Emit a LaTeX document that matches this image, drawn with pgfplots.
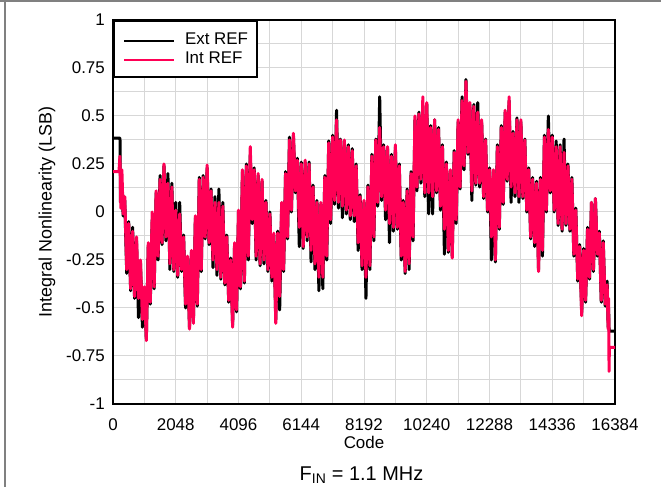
\documentclass[border=0pt]{standalone}
\usepackage{fontspec}
\setmainfont{Liberation Sans}
\usepackage{pgfplots}
\pgfplotsset{compat=1.18}
\definecolor{intref}{RGB}{255,0,85}
\definecolor{gridgray}{RGB}{215,215,215}
\begin{document}
\begin{tikzpicture}
\useasboundingbox (0,0) rectangle (661bp,487bp);
\draw[gray, line width=2bp] (0,485.8bp) -- (661bp,485.8bp);
\draw[gray, line width=2bp] (5bp,0) -- (5bp,485.8bp);
\begin{axis}[
  at={(113bp,83bp)}, anchor=south west,
  scale only axis, width=502bp, height=384bp,
  xmin=0, xmax=16384, ymin=-1, ymax=1,
  scaled x ticks=false, scaled y ticks=false,
  xtick={0,2048,4096,6144,8192,10240,12288,14336,16384},
  xticklabels={0,2048,4096,6144,8192,10240,12288,14336,16384},
  ytick={-1,-0.75,-0.5,-0.25,0,0.25,0.5,0.75,1},
  yticklabels={-1,-0.75,-0.5,-0.25,0,0.25,0.5,0.75,1},
  minor x tick num=1, minor y tick num=1,
  grid=both,
  major grid style={gridgray, line width=1bp},
  minor grid style={gridgray, line width=1bp},
  major tick length=0pt, minor tick length=0pt,
  axis line style={line width=2.2bp},
  tick label style={font=\fontsize{17}{20}\selectfont},
  xticklabel style={anchor=base, yshift=-26.7bp},
  yticklabel style={anchor=east, inner sep=0pt, xshift=-8bp},
  xlabel={Code},
  ylabel={Integral Nonlinearity (LSB)},
  xlabel style={font=\fontsize{17}{20}\selectfont, at={(axis description cs:0.5,-0.1154)}, anchor=base},
  ylabel style={font=\fontsize{18}{20}\selectfont, at={(axis description cs:-0.1225,0.5)}, anchor=base, rotate=0},
  legend style={at={(0,1)}, anchor=north west, draw=black, line width=2bp,
    font=\fontsize{17}{20}\selectfont, inner xsep=9bp, inner ysep=12bp,
    row sep=4.5bp,
    nodes={inner sep=0pt, text height=12bp, text depth=2bp}},
  legend cell align=left,
  legend image code/.code={\draw[#1, line width=2bp] (0bp,-1.5bp) -- (50bp,-1.5bp);},
]
\addplot[black, line width=3bp, line join=round] coordinates {
(0,0.385)(228,0.385)(244,0.05)(300,0.15)(330,-0.02)
(384,0.06)(448,-0.32)(512,-0.05)(576,-0.41)(640,-0.08)(704,-0.45)(768,-0.15)(832,-0.55)(896,-0.26)(960,-0.60)
(1024,-0.40)(1088,-0.66)(1152,-0.17)(1216,-0.48)(1280,-0.04)(1344,-0.40)(1408,0.10)(1472,-0.25)(1536,0.19)(1600,-0.17)(1664,0.24)(1728,-0.15)(1792,0.20)(1856,-0.30)(1920,0.15)(1984,-0.31)
(2048,0.05)(2112,-0.34)(2176,0.05)(2240,-0.31)(2304,-0.12)(2368,-0.50)(2432,-0.24)(2496,-0.60)(2560,-0.21)(2624,-0.57)(2688,-0.03)(2752,-0.49)(2816,0.18)(2880,-0.31)(2944,0.19)(3008,-0.14)
(3072,0.23)(3136,-0.17)(3200,0.12)(3264,-0.29)(3328,0.08)(3392,-0.33)(3456,0.12)(3520,-0.35)(3584,0.05)(3648,-0.38)(3712,-0.12)(3776,-0.47)(3840,-0.24)(3904,-0.59)(3968,-0.17)(4032,-0.52)
(4096,0.00)(4160,-0.40)(4224,0.21)(4288,-0.37)(4352,0.25)(4416,-0.25)(4480,0.30)(4544,-0.06)(4608,0.23)(4672,-0.25)(4736,0.19)(4800,-0.28)(4864,0.16)(4928,-0.27)(4992,0.06)(5056,-0.31)
(5120,0.00)(5184,-0.36)(5248,-0.12)(5312,-0.56)(5376,-0.10)(5440,-0.51)(5504,0.03)(5568,-0.31)(5632,0.21)(5696,-0.14)(5760,0.39)(5824,0.00)(5888,0.40)(5952,0.10)(6016,0.28)(6080,-0.18)
(6144,0.26)(6208,-0.19)(6272,0.26)(6336,-0.15)(6400,0.26)(6464,-0.26)(6528,0.14)(6592,-0.30)(6656,0.06)(6720,-0.41)(6784,0.04)(6848,-0.40)(6912,0.19)(6976,-0.25)(7040,0.37)(7104,-0.06)
(7168,0.40)(7232,0.04)(7296,0.53)(7360,0.02)(7424,0.38)(7488,-0.03)(7552,0.37)(7616,-0.01)(7680,0.35)(7744,-0.04)(7808,0.33)(7872,-0.05)(7936,0.25)(8000,-0.20)(8064,0.09)(8128,-0.30)
(8192,0.05)(8256,-0.45)(8320,0.14)(8384,-0.30)(8448,0.30)(8512,-0.15)(8576,0.38)(8640,0.03)(8704,0.60)(8768,0.06)(8832,0.35)(8896,-0.04)(8960,0.33)(9024,-0.16)(9088,0.30)(9152,-0.10)
(9216,0.34)(9280,-0.09)(9344,0.25)(9408,-0.25)(9472,0.06)(9536,-0.32)(9600,0.12)(9664,-0.30)(9728,0.21)(9792,-0.15)(9856,0.48)(9920,0.11)(9984,0.52)(10048,0.15)(10112,0.55)(10176,0.08)
(10240,0.56)(10304,-0.01)(10368,0.45)(10432,-0.01)(10496,0.48)(10560,0.10)(10624,0.44)(10688,0.01)(10752,0.35)(10816,-0.22)(10880,0.26)(10944,-0.21)(11008,0.21)(11072,-0.23)(11136,0.32)(11200,-0.06)
(11264,0.47)(11328,0.12)(11392,0.60)(11456,0.22)(11520,0.69)(11584,0.30)(11648,0.56)(11712,0.06)(11776,0.56)(11840,0.14)(11904,0.57)(11968,0.13)(12032,0.47)(12096,0.07)(12160,0.38)(12224,0.00)
(12288,0.23)(12352,-0.25)(12416,0.21)(12480,-0.26)(12544,0.35)(12608,-0.09)(12672,0.45)(12736,0.04)(12800,0.52)(12864,0.16)(12928,0.58)(12992,0.05)(13056,0.42)(13120,0.08)(13184,0.49)(13248,0.05)
(13312,0.47)(13376,0.07)(13440,0.38)(13504,0.00)(13568,0.23)(13632,-0.14)(13696,0.18)(13760,-0.18)(13824,0.16)(13888,-0.30)(13952,0.18)(14016,-0.23)(14080,0.40)(14144,0.00)(14208,0.50)(14272,0.10)
(14336,0.40)(14400,0.00)(14464,0.37)(14528,-0.07)(14592,0.35)(14656,-0.10)(14720,0.38)(14784,-0.07)(14848,0.25)(14912,-0.10)(14976,0.18)(15040,-0.23)(15104,0.02)(15168,-0.36)(15232,-0.17)(15296,-0.52)
(15360,-0.19)(15424,-0.47)(15488,-0.08)(15552,-0.35)(15616,0.05)(15680,-0.31)(15744,0.07)(15808,-0.23)(15872,-0.10)(15936,-0.47)(16000,-0.15)(16064,-0.49)(16128,-0.36)(16160,-0.60)(16176,-0.50)(16190,-0.62)(16384,-0.62)
};
\addlegendentry{\hspace*{10bp}Ext REF}
\addplot[intref, line width=3bp, line join=round] coordinates {
(0,0.21)(195,0.21)(225,0.29)(256,0.02)(290,0.22)(330,-0.01)
(384,0.08)(448,-0.30)(512,-0.06)(576,-0.40)(640,-0.10)(704,-0.44)(768,-0.13)(832,-0.45)(896,-0.25)(960,-0.56)
(1024,-0.39)(1088,-0.67)(1152,-0.16)(1216,-0.47)(1280,0.00)(1344,-0.39)(1408,0.11)(1472,-0.23)(1536,0.17)(1600,-0.16)(1664,0.25)(1728,-0.13)(1792,0.15)(1856,-0.27)(1920,0.13)(1984,-0.30)
(2048,0.01)(2112,-0.33)(2176,-0.01)(2240,-0.30)(2304,-0.13)(2368,-0.48)(2432,-0.23)(2496,-0.61)(2560,-0.20)(2624,-0.58)(2688,-0.02)(2752,-0.48)(2816,0.17)(2880,-0.30)(2944,0.18)(3008,-0.13)
(3072,0.245)(3136,-0.16)(3200,0.11)(3264,-0.25)(3328,0.05)(3392,-0.30)(3456,0.05)(3520,-0.34)(3584,0.03)(3648,-0.37)(3712,-0.13)(3776,-0.46)(3840,-0.25)(3904,-0.60)(3968,-0.16)(4032,-0.51)
(4096,0.01)(4160,-0.39)(4224,0.22)(4288,-0.36)(4352,0.24)(4416,-0.23)(4480,0.34)(4544,-0.04)(4608,0.22)(4672,-0.23)(4736,0.20)(4800,-0.27)(4864,0.17)(4928,-0.25)(4992,0.05)(5056,-0.30)
(5120,-0.01)(5184,-0.34)(5248,-0.11)(5312,-0.58)(5376,-0.11)(5440,-0.44)(5504,0.05)(5568,-0.30)(5632,0.20)(5696,-0.13)(5760,0.375)(5824,0.01)(5888,0.41)(5952,0.11)(6016,0.27)(6080,-0.08)
(6144,0.25)(6208,-0.18)(6272,0.27)(6336,-0.13)(6400,0.25)(6464,-0.20)(6528,0.13)(6592,-0.27)(6656,0.05)(6720,-0.34)(6784,0.05)(6848,-0.34)(6912,0.18)(6976,-0.23)(7040,0.36)(7104,-0.04)
(7168,0.39)(7232,0.06)(7296,0.48)(7360,0.05)(7424,0.375)(7488,0.03)(7552,0.375)(7616,0.01)(7680,0.34)(7744,-0.02)(7808,0.32)(7872,-0.02)(7936,0.24)(8000,-0.16)(8064,0.08)(8128,-0.28)
(8192,0.06)(8256,-0.34)(8320,0.13)(8384,-0.28)(8448,0.29)(8512,-0.13)(8576,0.375)(8640,0.05)(8704,0.44)(8768,0.08)(8832,0.34)(8896,0.01)(8960,0.34)(9024,-0.06)(9088,0.29)(9152,-0.08)
(9216,0.35)(9280,-0.08)(9344,0.24)(9408,-0.23)(9472,0.05)(9536,-0.31)(9600,0.11)(9664,-0.27)(9728,0.20)(9792,-0.13)(9856,0.50)(9920,0.13)(9984,0.51)(10048,0.17)(10112,0.60)(10176,0.10)
(10240,0.57)(10304,0.10)(10368,0.44)(10432,0.08)(10496,0.48)(10560,0.11)(10624,0.43)(10688,0.03)(10752,0.34)(10816,-0.09)(10880,0.25)(10944,-0.20)(11008,0.22)(11072,-0.24)(11136,0.31)(11200,-0.04)
(11264,0.48)(11328,0.13)(11392,0.58)(11456,0.24)(11520,0.68)(11584,0.31)(11648,0.57)(11712,0.11)(11776,0.55)(11840,0.15)(11904,0.52)(11968,0.15)(12032,0.48)(12096,0.08)(12160,0.375)(12224,0.01)
(12288,0.22)(12352,-0.13)(12416,0.22)(12480,-0.25)(12544,0.34)(12608,-0.08)(12672,0.44)(12736,0.05)(12800,0.53)(12864,0.17)(12928,0.60)(12992,0.13)(13056,0.41)(13120,0.10)(13184,0.48)(13248,0.08)
(13312,0.48)(13376,0.08)(13440,0.375)(13504,0.01)(13568,0.22)(13632,-0.13)(13696,0.17)(13760,-0.16)(13824,0.15)(13888,-0.31)(13952,0.17)(14016,-0.20)(14080,0.39)(14144,0.01)(14208,0.43)(14272,0.11)
(14336,0.39)(14400,0.01)(14464,0.34)(14528,-0.06)(14592,0.34)(14656,-0.09)(14720,0.31)(14784,-0.06)(14848,0.24)(14912,-0.09)(14976,0.17)(15040,-0.22)(15104,0.01)(15168,-0.35)(15232,-0.18)(15296,-0.54)
(15360,-0.20)(15424,-0.46)(15488,-0.09)(15552,-0.34)(15616,0.05)(15680,-0.30)(15744,0.07)(15808,-0.22)(15872,-0.11)(15936,-0.46)(16000,-0.16)(16064,-0.48)(16128,-0.38)(16160,-0.61)(16176,-0.45)(16190,-0.83)(16200,-0.705)(16384,-0.705)
};
\addlegendentry{\hspace*{10bp}Int REF}
\end{axis}
\node[anchor=base, font=\fontsize{20}{24}\selectfont] at (361.5bp,6.3bp) {F\textsubscript{IN} = 1.1 MHz};
\end{tikzpicture}
\end{document}
